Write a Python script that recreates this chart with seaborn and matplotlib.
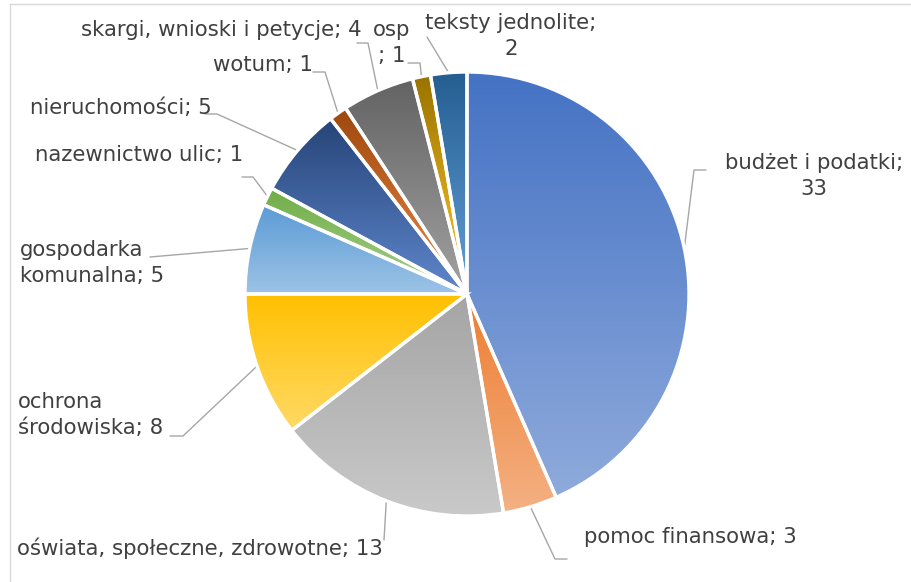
import colorsys
import numpy as np
import seaborn as sns
import matplotlib.pyplot as plt
from matplotlib.colors import to_rgb

# Data ########################################################################
labels = ["budżet i podatki", "pomoc finansowa", "oświata, społeczne, zdrowotne",
          "ochrona środowiska", "gospodarka komunalna", "nazewnictwo ulic",
          "nieruchomości", "wotum", "skargi, wnioski i petycje", "osp",
          "teksty jednolite"]
values = [33, 3, 13, 8, 5, 1, 5, 1, 4, 1, 2]
colors = ["#4472C4", "#ED7D31", "#A5A5A5", "#FFC000", "#5B9BD5", "#70AD47",
          "#264478", "#9E480E", "#636363", "#997300", "#255E91"]
# text shown for each slice (line breaks as in the chart)
label_text = ["budżet i podatki;\n33", "pomoc finansowa; 3",
              "oświata, społeczne, zdrowotne; 13", "ochrona\nśrodowiska; 8",
              "gospodarka\nkomunalna; 5", "nazewnictwo ulic; 1",
              "nieruchomości; 5", "wotum; 1", "skargi, wnioski i petycje; 4",
              "osp\n; 1", "teksty jednolite;\n2"]

# Layout (pixels, top-left origin) ##############################################
W, H = 912, 582
CX, CY, R = 467, 294, 222
# text anchor, alignment, leader bend points
layout = [
    ((814, 176), "center", [(694, 170), (706, 170)]),
    ((584, 537), "left", [(555, 559), (567, 559)]),
    ((17, 548), "left", [(384, 540)]),
    ((18, 415), "left", [(183, 436), (170, 436)]),
    ((20, 263), "left", [(150, 257)]),
    ((35, 155), "left", [(253, 177), (242, 177)]),
    ((30, 108), "left", [(217, 114), (205, 114)]),
    ((213, 65), "left", [(325, 72), (313, 72)]),
    ((362, 30), "right", [(368, 43), (357, 43)]),
    ((392, 43), "center", [(420, 63), (408, 63)]),
    ((511, 36), "center", [(427, 37)]),
]


def px(x, y):
    return (x - CX) / R, (CY - y) / R


def lighter(c, k=0.4):
    h, l, s = colorsys.rgb_to_hls(*to_rgb(c))
    return colorsys.hls_to_rgb(h, l + (1 - l) * k, s)


sns.set_theme(style="white")
plt.rcParams['font.family'] = ['DejaVu Sans']

fig = plt.figure(figsize=(W / 100, H / 100), dpi=100)
ax = fig.add_axes([0, 0, 1, 1])

wedges, _ = ax.pie(values, startangle=90, counterclock=False, radius=1,
                   wedgeprops=dict(facecolor="none", edgecolor="white",
                                   linewidth=2.4, zorder=3))

# gradient fill for every slice, top = base colour, bottom = lighter
for w, c in zip(wedges, colors):
    bb = w.get_path().get_extents()
    grad = np.array(sns.blend_palette([c, lighter(c)], 128)).reshape(128, 1, 3)
    im = ax.imshow(grad, extent=(bb.x0, bb.x1, bb.y0, bb.y1), origin="upper",
                   aspect="auto", interpolation="bilinear", zorder=2)
    im.set_clip_path(w)

# labels with leader lines
for w, txt, (pos, ha, bends) in zip(wedges, label_text, layout):
    ang = np.deg2rad((w.theta1 + w.theta2) / 2)
    pts = [(np.cos(ang), np.sin(ang))] + [px(*b) for b in bends]
    xs, ys = zip(*pts)
    ax.plot(xs, ys, color="#A6A6A6", lw=1, zorder=1)
    tx, ty = px(*pos)
    ax.text(tx, ty, txt, ha=ha, va="center", multialignment=ha,
            fontsize=15.3, color="#404040", linespacing=1.35)

ax.set_xlim(-CX / R, (W - CX) / R)
ax.set_ylim((CY - H) / R, CY / R)
ax.set_aspect("equal")
ax.axis("off")

# chart area border (only top and left visible)
fig.add_artist(plt.Line2D([10 / W, 1], [1 - 4 / H, 1 - 4 / H],
                          color="#D9D9D9", lw=1, transform=fig.transFigure))
fig.add_artist(plt.Line2D([10 / W, 10 / W], [0, 1 - 4 / H],
                          color="#D9D9D9", lw=1, transform=fig.transFigure))

fig.savefig("out.png", dpi=100)
